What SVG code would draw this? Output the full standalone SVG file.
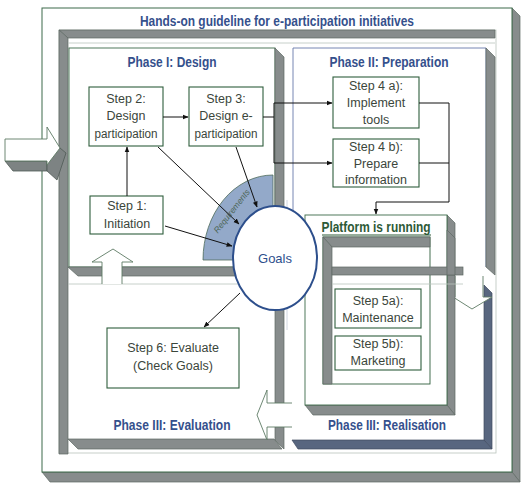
<svg xmlns="http://www.w3.org/2000/svg" width="525" height="484" viewBox="0 0 525 484">
  <defs>
    <marker id="ah" viewBox="0 0 10 10" refX="9" refY="5" markerWidth="6" markerHeight="6" orient="auto-start-reverse" markerUnits="userSpaceOnUse">
      <path d="M0,1 L10,5 L0,9 Z" fill="#111"/>
    </marker>
    <style>
      .band { fill:#878c8c; stroke:#5d6863; stroke-width:0.7; }
      .slate { fill:#58667f; stroke:#3f4b60; stroke-width:0.7; }
      .pane { fill:#fff; stroke:#3d6b4a; stroke-width:0.9; }
      .thin { fill:none; stroke:#b9c4bc; stroke-width:0.8; }
      .box { fill:#fff; stroke:#2f5e3c; stroke-width:1.1; }
      .arrowblk { fill:#fff; stroke:#5e7a64; stroke-width:0.9; }
      .st { font-family:"Liberation Sans", Arial, sans-serif; font-size:12.5px; fill:#3b463b; text-anchor:middle; }
      .ph { font-family:"Liberation Sans", Arial, sans-serif; font-size:14px; font-weight:bold; fill:#35508c; text-anchor:middle; }
      .conn { fill:none; stroke:#111; stroke-width:1; }
    </style>
  </defs>

  <rect width="525" height="484" fill="#fff"/>

  <!-- outer frame with extrusion -->
  <g id="outer-frame">
    <polygon class="band" points="512,8 520,16 520,482 512,472"/>
    <polygon class="band" points="42,472 512,472 520,482 50,482"/>
    <rect x="42" y="8" width="470" height="464" fill="#fff" stroke="#3d6b4a" stroke-width="1"/>
    <text class="ph" x="277" y="26" font-size="13.5" textLength="274" lengthAdjust="spacingAndGlyphs">Hands-on guideline for e-participation initiatives</text>
  </g>

  <!-- main frame -->
  <g id="main-frame">
    <rect class="thin" x="59" y="30" width="437" height="423"/>
    <polygon class="band" points="59,30 495,30 495,38 68,38"/>
    <polygon class="band" points="59,30 68,38 68,454 59,454"/>
    <line class="thin" x1="68" y1="43" x2="495" y2="43"/>
  </g>

  <!-- entry arrow (extruded block arrow) -->
  <g id="entry-arrow">
    <polygon points="5,161 47,161 47,171 13,171" fill="#7d8383" stroke="#4f5a55" stroke-width="0.8"/>
    <polygon points="47,161 60,148 66,153 57,180 47,171" fill="#7d8383" stroke="#4f5a55" stroke-width="0.8"/>
    <polygon class="arrowblk" points="5,139 47,139 47,127 60,148 47,165 47,161 5,161"/>
  </g>

  <!-- Phase I -->
  <g id="phase1">
    <rect class="pane" x="69" y="48" width="206" height="219"/>
    <text class="ph" x="172" y="67" textLength="89" lengthAdjust="spacingAndGlyphs">Phase I: Design</text>
  </g>

  <!-- Phase II -->
  <g id="phase2">
    <rect x="293" y="48" width="193" height="219" fill="#fff"/>
    <path d="M293,300 V48 H486 V267" fill="none" stroke="#6678aa" stroke-width="0.9"/>
    <line x1="287" y1="200" x2="287" y2="330" stroke="#c4ccd8" stroke-width="0.8"/>
    <polygon class="band" points="486,48 495,57 495,275 486,267" stroke="#6678aa"/>
    <text class="ph" x="389" y="67" textLength="119" lengthAdjust="spacingAndGlyphs">Phase II: Preparation</text>
  </g>

  <!-- Phase III realisation edges -->
  <g id="phase3-realisation">
    <polygon class="slate" points="484,285 492,293 492,449 484,440"/>
    <polygon class="slate" points="292,440 484,440 492,449 298,449"/>
    <text class="ph" x="387" y="430" textLength="118" lengthAdjust="spacingAndGlyphs">Phase III: Realisation</text>
  </g>

  <!-- Phase III evaluation edges -->
  <g id="phase3-evaluation">
    <polygon class="band" points="68,439 274,439 282,449 78,449"/>
    <text class="ph" x="172" y="430" textLength="117" lengthAdjust="spacingAndGlyphs">Phase III: Evaluation</text>
  </g>

  <!-- dividers between phases -->
  <g id="dividers">
    <polygon class="band" points="275,48 284,57 284,449 275,440"/>
    <polygon class="band" points="68,267 240,267 240,276 78,276"/>
    <line class="thin" x1="68" y1="284" x2="240" y2="284"/>
    <!-- flow arrow up into Phase I -->
    <path d="M102,284 V262 H92 L113,249 L133,262 H122 V284" fill="#fff"/>
    <path class="arrowblk" d="M102,284 V262 H92 L113,249 L133,262 H122 V284" fill="none"/>
    <!-- flow arrow down into Phase III -->
    <path d="M455,262 V297 H453 L472,309 L492,297 H483 V262 Z" fill="#fff"/>
    <path class="arrowblk" d="M455,276 V297 H453 L472,309 L492,297 H483 V276" fill="none"/>
    <!-- flow arrow left into evaluation -->
    <path d="M292,403 H267 V390 L257,415 L267,440 V427 H292 Z" fill="#fff"/>
    <path class="arrowblk" d="M292,403 H267 V390 L257,415 L267,440 V427 H292" fill="none"/>
  </g>

  <!-- Platform is running -->
  <g id="platform">
    <polygon class="band" points="447,215 455,223 455,415 447,405"/>
    <polygon class="band" points="305,405 447,405 455,415 313,415"/>
    <rect class="pane" x="305" y="215" width="142" height="190"/>
    <rect x="323" y="237" width="107" height="147" fill="#fff" stroke="#2f5e3c" stroke-width="0.9"/>
    <polygon class="band" points="323,237 430,237 430,247 332,247"/>
    <polygon class="band" points="323,237 332,247 332,384 323,384"/>
    <rect class="band" x="332" y="267" width="131" height="8"/>
    <line class="thin" x1="332" y1="284" x2="463" y2="284"/>
    <polygon class="band" points="447,230 455,238 455,275 447,275" stroke="none"/>
    <text x="376" y="232" font-family="Liberation Sans, Arial, sans-serif" font-size="14" font-weight="bold" fill="#2d5a37" text-anchor="middle" textLength="109" lengthAdjust="spacingAndGlyphs">Platform is running</text>
    <line x1="322" y1="235" x2="431" y2="235" stroke="#2d5a37" stroke-width="1.2"/>
  </g>

  <!-- Goals with requirements sector -->
  <g id="goals">
    <path d="M273,260 L203,260 A70,85 0 0 1 273,175 Z" fill="#93a9c9" stroke="#4e6b5a" stroke-width="0.8"/>
    <text transform="translate(234,213) rotate(-52)" font-family="Liberation Sans, Arial, sans-serif" font-size="8.5" font-style="italic" fill="#4d6656" text-anchor="middle">Requirements</text>
    <ellipse cx="275" cy="258" rx="42" ry="52" fill="#fff" stroke="#2d4f8c" stroke-width="2"/>
    <text x="275" y="263" font-family="Liberation Sans, Arial, sans-serif" font-size="13" fill="#2d4f8c" text-anchor="middle">Goals</text>
  </g>

  <!-- steps -->
  <g id="step1">
    <rect class="box" x="90" y="196" width="73" height="38"/>
    <text class="st" x="127" y="210">Step 1:</text>
    <text class="st" x="127" y="228">Initiation</text>
  </g>
  <g id="step2">
    <rect class="box" x="89" y="87" width="74" height="59"/>
    <text class="st" x="126" y="103">Step 2:</text>
    <text class="st" x="126" y="120">Design</text>
    <text class="st" x="126" y="138" textLength="63" lengthAdjust="spacingAndGlyphs">participation</text>
  </g>
  <g id="step3">
    <rect class="box" x="189" y="87" width="74" height="59"/>
    <text class="st" x="226" y="103">Step 3:</text>
    <text class="st" x="226" y="120">Design e-</text>
    <text class="st" x="226" y="138" textLength="63" lengthAdjust="spacingAndGlyphs">participation</text>
  </g>
  <g id="step4a">
    <rect class="box" x="333" y="77" width="86" height="51"/>
    <text class="st" x="376" y="90">Step 4 a):</text>
    <text class="st" x="376" y="107">Implement</text>
    <text class="st" x="376" y="124">tools</text>
  </g>
  <g id="step4b">
    <rect class="box" x="333" y="139" width="86" height="48"/>
    <text class="st" x="376" y="151">Step 4 b):</text>
    <text class="st" x="376" y="168">Prepare</text>
    <text class="st" x="376" y="184">information</text>
  </g>
  <g id="step5a">
    <rect class="box" x="335" y="289" width="86" height="39"/>
    <text class="st" x="378" y="305">Step 5a):</text>
    <text class="st" x="378" y="322">Maintenance</text>
  </g>
  <g id="step5b">
    <rect class="box" x="335" y="336" width="86" height="34"/>
    <text class="st" x="378" y="348">Step 5b):</text>
    <text class="st" x="378" y="365">Marketing</text>
  </g>
  <g id="step6">
    <rect class="box" x="107" y="328" width="132" height="60"/>
    <text class="st" x="173" y="352">Step 6: Evaluate</text>
    <text class="st" x="173" y="370">(Check Goals)</text>
  </g>

  <!-- connectors -->
  <g id="connectors">
    <line class="conn" x1="127" y1="196" x2="127" y2="147" marker-end="url(#ah)"/>
    <line class="conn" x1="163" y1="117" x2="188" y2="117" marker-end="url(#ah)"/>
    <polyline class="conn" points="263,117 274,117"/>
    <polyline class="conn" points="274,103 274,163"/>
    <line class="conn" x1="274" y1="103" x2="332" y2="103" marker-end="url(#ah)"/>
    <line class="conn" x1="274" y1="163" x2="332" y2="163" marker-end="url(#ah)"/>
    <polyline class="conn" points="419,103 449,103 449,202"/>
    <polyline class="conn" points="419,163 449,163"/>
    <polyline class="conn" points="449,202 376,202 376,214" marker-end="url(#ah)"/>
    <line class="conn" x1="158" y1="147" x2="239" y2="224" stroke-width="0.8" marker-end="url(#ah)"/>
    <line class="conn" x1="236" y1="147" x2="257" y2="207" stroke-width="0.8" marker-end="url(#ah)"/>
    <line class="conn" x1="165" y1="226" x2="232" y2="246" stroke-width="0.8" marker-end="url(#ah)"/>
    <line class="conn" x1="240" y1="293" x2="204" y2="327" stroke-width="0.8" marker-end="url(#ah)"/>
  </g>
</svg>
